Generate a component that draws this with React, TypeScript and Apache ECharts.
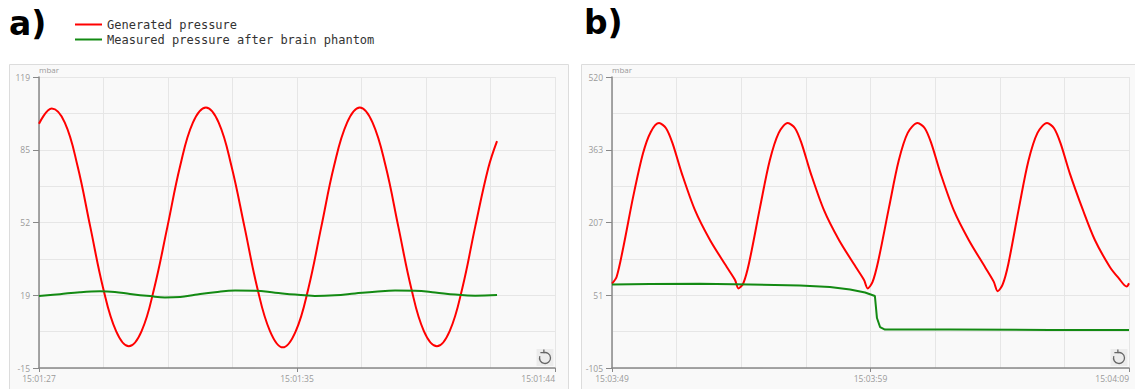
import React, { useEffect, useRef } from "react";
import * as echarts from "echarts";

// ---- data (seconds since start of window, mbar) ----
const seriesNames = ["Generated pressure", "Measured pressure after brain phantom"];

const yTickLabelsA = ["-15", "19", "52", "85", "119"];
const xTickLabelsA = ["15:01:27", "15:01:35", "15:01:44"];
const yTickLabelsB = ["-105", "51", "207", "363", "520"];
const xTickLabelsB = ["15:03:49", "15:03:59", "15:04:09"];

const generatedA = [
  [0.0, 97.5], [0.42, 104.5], [0.85, 98], [1.27, 78], [1.69, 50], [2.11, 22], [2.54, 2], [2.96, -5],
  [3.38, 2], [3.8, 22], [4.23, 50], [4.65, 78], [5.07, 98], [5.5, 105], [5.92, 98], [6.34, 78],
  [6.77, 50], [7.19, 22], [7.61, 2], [8.03, -5.5], [8.46, 2], [8.88, 22], [9.3, 50], [9.72, 78],
  [10.15, 98], [10.57, 105], [10.99, 98], [11.42, 78], [11.84, 50], [12.26, 22], [12.68, 2],
  [13.11, -5], [13.53, 2], [13.95, 22], [14.37, 50], [14.8, 77], [15.09, 89.5],
];

const measuredA = [
  [0.0, 18.1], [0.69, 19.0], [1.35, 19.9], [2.01, 20.3], [2.5, 20.0], [3.0, 19.1], [3.66, 18.1],
  [4.15, 17.5], [4.65, 17.7], [5.14, 18.7], [5.8, 19.9], [6.46, 20.7], [7.12, 20.6], [7.78, 19.7],
  [8.44, 18.8], [9.09, 18.2], [9.75, 18.5], [10.41, 19.3], [11.07, 20.1], [11.73, 20.7],
  [12.39, 20.6], [13.05, 19.8], [13.71, 18.8], [14.37, 18.3], [15.09, 18.6],
];

const generatedB = [
  [0.0, 76], [0.18, 91], [0.44, 155], [0.82, 263], [1.2, 356], [1.5, 402], [1.82, 421], [2.09, 410],
  [2.34, 378], [2.7, 313], [3.21, 234], [3.79, 170], [4.44, 112], [4.76, 84], [4.89, 66],
  [5.08, 77], [5.3, 120], [5.73, 241], [6.1, 340], [6.45, 400], [6.8, 421], [7.08, 410], [7.33, 378],
  [7.69, 313], [8.2, 234], [8.78, 170], [9.43, 112], [9.75, 84], [9.89, 66],
  [10.08, 80], [10.3, 125], [10.72, 241], [11.09, 340], [11.44, 400], [11.82, 421], [12.1, 410],
  [12.35, 378], [12.71, 313], [13.22, 234], [13.8, 170], [14.45, 110], [14.77, 80], [14.92, 60],
  [15.11, 74], [15.33, 118], [15.75, 241], [16.11, 340], [16.46, 400], [16.83, 421], [17.1, 410],
  [17.35, 378], [17.71, 313], [18.22, 234], [18.68, 170], [19.26, 112], [19.6, 88], [19.91, 70],
  [20.0, 77],
];

const measuredB = [
  [0.0, 74.3], [1.47, 75.4], [3.4, 76], [5.34, 74.3], [7.27, 72.1], [8.43, 69], [9.21, 63.6],
  [9.79, 57.1], [10.17, 49.6], [10.25, 2.3], [10.37, -17], [10.56, -22.4], [13.08, -22.4],
  [16.94, -23.4], [20.0, -23.4],
];

const RED = "#ff0000";
const GREEN = "#138a13";
const LABEL_FONT = "Open Sans";

function yAxis(gridIndex: number, min: number, max: number, labels: string[]) {
  const interval = (max - min) / 4;
  return {
    type: "value",
    gridIndex,
    min,
    max,
    interval,
    name: "mbar",
    nameLocation: "end",
    nameGap: 4,
    nameTextStyle: { align: "left", fontSize: 8, color: "#999", fontFamily: LABEL_FONT },
    axisLine: { show: true, lineStyle: { color: "#888", width: 1.5 } },
    axisTick: { show: true, length: 6, lineStyle: { color: "#888" } },
    axisLabel: {
      margin: 9,
      fontSize: 8.5,
      color: "#999",
      fontFamily: LABEL_FONT,
      formatter: (v: number) => labels[Math.round((v - min) / interval)] ?? "",
    },
    splitLine: { show: true, lineStyle: { color: "#e6e6e6" } },
    minorTick: { show: false, splitNumber: 2 },
    minorSplitLine: { show: true, lineStyle: { color: "#e6e6e6" } },
  };
}

function xAxis(gridIndex: number, max: number, labels: string[]) {
  const interval = max / 2;
  return {
    type: "value",
    gridIndex,
    min: 0,
    max,
    interval,
    axisLine: { show: true, onZero: false, lineStyle: { color: "#888", width: 1.5 } },
    axisTick: { show: true, length: 4, lineStyle: { color: "#888" } },
    axisLabel: {
      margin: 6,
      fontSize: 8.5,
      color: "#999",
      fontFamily: LABEL_FONT,
      alignMaxLabel: "right",
      formatter: (v: number) => labels[Math.round(v / interval)] ?? "",
    },
    splitLine: { show: true, lineStyle: { color: "#e6e6e6" } },
    minorTick: { show: false, splitNumber: 4 },
    minorSplitLine: { show: true, lineStyle: { color: "#e6e6e6" } },
  };
}

function restoreIcon(x: number, y: number) {
  const cx = x + 8.5;
  const cy = y + 9;
  const r = 5.5;
  const a0 = (-105 * Math.PI) / 180;
  const sx = cx + r * Math.cos(a0);
  const sy = cy + r * Math.sin(a0);
  return {
    type: "group",
    children: [
      { type: "rect", shape: { x, y, width: 17, height: 17 }, style: { fill: "#ececec" }, z: 5 },
      {
        type: "arc",
        shape: { cx, cy, r, startAngle: a0, endAngle: a0 - (55 * Math.PI) / 180 + Math.PI * 2, clockwise: true },
        style: { stroke: "#666", lineWidth: 1.3, fill: "none" },
        z: 6,
      },
      {
        type: "polyline",
        shape: { points: [[sx - 3.2, sy], [sx + 0.3, sy], [sx + 0.3, sy - 3.2]] },
        style: { stroke: "#666", lineWidth: 1.3, fill: "none" },
        z: 6,
      },
    ],
  };
}

export default function App() {
  const ref = useRef<HTMLDivElement>(null);

  useEffect(() => {
    document.body.style.margin = "0";
    if (!ref.current) return;
    const chart = echarts.init(ref.current, undefined, { renderer: "svg" });
    chart.setOption({
      animation: false,
      backgroundColor: "#ffffff",
      legend: {
        orient: "vertical",
        left: 70,
        top: 12,
        icon: "rect",
        itemWidth: 27,
        itemHeight: 2,
        itemGap: 0,
        textStyle: {
          fontFamily: "DejaVu Sans Mono",
          fontSize: 12,
          color: "#333",
          lineHeight: 15,
        },
        data: seriesNames,
      },
      grid: [
        { left: 39, top: 77, width: 516, height: 291 },
        { left: 612, top: 77, width: 517, height: 291 },
      ],
      xAxis: [xAxis(0, 17, xTickLabelsA), xAxis(1, 20, xTickLabelsB)],
      yAxis: [yAxis(0, -15, 119, yTickLabelsA), yAxis(1, -105, 520, yTickLabelsB)],
      graphic: [
        {
          type: "rect",
          z: -10,
          shape: { x: 9.5, y: 64.5, width: 559, height: 340 },
          style: { fill: "#f9f9f9", stroke: "#dcdcdc", lineWidth: 1 },
        },
        {
          type: "rect",
          z: -10,
          shape: { x: 581.5, y: 64.5, width: 560, height: 340 },
          style: { fill: "#f9f9f9", stroke: "#dcdcdc", lineWidth: 1 },
        },
        {
          type: "text",
          x: 9,
          y: 7,
          style: { text: "a)", font: "bold 33px 'DejaVu Sans'", fill: "#000", textVerticalAlign: "top" },
        },
        {
          type: "text",
          x: 584,
          y: 6,
          style: { text: "b)", font: "bold 33px 'DejaVu Sans'", fill: "#000", textVerticalAlign: "top" },
        },
        restoreIcon(536.5, 349),
        restoreIcon(1110.5, 349),
      ],
      series: [
        {
          name: seriesNames[0],
          type: "line",
          xAxisIndex: 0,
          yAxisIndex: 0,
          data: generatedA,
          smooth: 0.4,
          showSymbol: false,
          lineStyle: { color: RED, width: 2 },
          itemStyle: { color: RED },
        },
        {
          name: seriesNames[1],
          type: "line",
          xAxisIndex: 0,
          yAxisIndex: 0,
          data: measuredA,
          smooth: 0.4,
          showSymbol: false,
          lineStyle: { color: GREEN, width: 2 },
          itemStyle: { color: GREEN },
        },
        {
          name: seriesNames[0],
          type: "line",
          xAxisIndex: 1,
          yAxisIndex: 1,
          data: generatedB,
          smooth: 0.3,
          showSymbol: false,
          lineStyle: { color: RED, width: 2 },
          itemStyle: { color: RED },
        },
        {
          name: seriesNames[1],
          type: "line",
          xAxisIndex: 1,
          yAxisIndex: 1,
          data: measuredB,
          smooth: false,
          showSymbol: false,
          lineStyle: { color: GREEN, width: 2 },
          itemStyle: { color: GREEN },
        },
      ],
    });
    return () => chart.dispose();
  }, []);

  return <div ref={ref} style={{ width: 1135, height: 389 }} />;
}
